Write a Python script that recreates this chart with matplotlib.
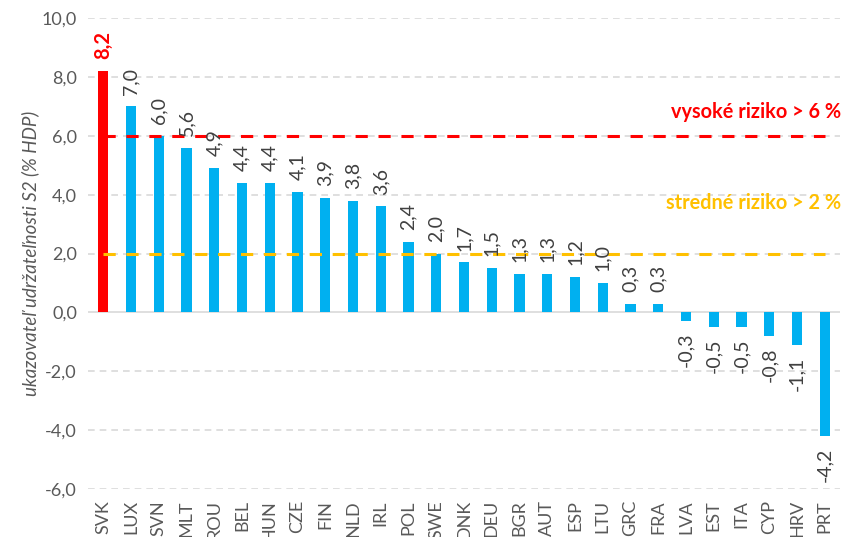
import numpy as np
import matplotlib.pyplot as plt

plt.rcParams['font.family'] = ['Lato', 'DejaVu Sans']

# data
countries = ["SVK", "LUX", "SVN", "MLT", "ROU", "BEL", "HUN", "CZE", "FIN", "NLD",
             "IRL", "POL", "SWE", "DNK", "DEU", "BGR", "AUT", "ESP", "LTU", "GRC",
             "FRA", "LVA", "EST", "ITA", "CYP", "HRV", "PRT"]
s2 = [8.2, 7.0, 6.0, 5.6, 4.9, 4.4, 4.4, 4.1, 3.9, 3.8,
      3.6, 2.4, 2.0, 1.7, 1.5, 1.3, 1.3, 1.2, 1.0, 0.3,
      0.3, -0.3, -0.5, -0.5, -0.8, -1.1, -4.2]
high_risk = 6.0
mid_risk = 2.0
yticks = [-6, -4, -2, 0, 2, 4, 6, 8, 10]

BLUE = "#00B0F0"
RED = "#FF0000"
GOLD = "#FFC000"
GRAY = "#595959"

fig = plt.figure(figsize=(8.41, 5.37), dpi=100)
ax = fig.add_axes([88/841, 1 - 489/537, 752/841, 471/537])

x = np.arange(len(countries))
colors = [RED if c == "SVK" else BLUE for c in countries]
ax.bar(x, s2, width=0.37, color=colors, zorder=2)

# prahove ciary (nad stlpcami, od prvej po poslednu kategoriu)
ax.plot([x[0], x[-1]], [high_risk, high_risk], color=RED, lw=2.2,
        dashes=(4, 3.5), zorder=3)
ax.plot([x[0], x[-1]], [mid_risk, mid_risk], color=GOLD, lw=2.2,
        dashes=(4, 3.5), zorder=3)

# popisky hodnot
for xi, v, c in zip(x, s2, countries):
    txt = "{:.1f}".format(v).replace(".", ",")
    if c == "SVK":
        ax.text(xi, v + 0.4, txt, rotation=90, ha="center", va="bottom",
                color=RED, fontsize=14.5, fontweight="bold")
    elif v >= 0:
        ax.text(xi, v + 0.4, txt, rotation=90, ha="center", va="bottom",
                color="#404040", fontsize=14)
    else:
        ax.text(xi, v - 0.4, txt, rotation=90, ha="center", va="top",
                color="#404040", fontsize=14)

ax.text(x[-1] + 0.6, 6.8, "vysoké riziko > 6 %", ha="right", va="center",
        color=RED, fontsize=14.3, fontweight="bold")
ax.text(x[-1] + 0.6, 3.72, "stredné riziko > 2 %", ha="right", va="center",
        color=GOLD, fontsize=14.3, fontweight="bold")

ax.set_xlim(-0.55, len(countries) - 0.45)
ax.set_ylim(-6, 10)
ax.set_yticks(yticks)
ax.set_yticklabels(["{:.1f}".format(t).replace(".", ",") for t in yticks],
                   color=GRAY, fontsize=13)
ax.set_xticks(x)
ax.set_xticklabels(countries, rotation=90, color=GRAY, fontsize=13)
ax.tick_params(axis="y", length=0, pad=8)
ax.tick_params(axis="x", length=0, pad=8)

for t in yticks:
    if t == 0:
        ax.axhline(0, color="#D9D9D9", lw=1.2, zorder=1)
    else:
        ax.axhline(t, color="#D9D9D9", lw=1.2, dashes=(4, 3), zorder=1)

for s in ax.spines.values():
    s.set_visible(False)

ax.set_ylabel("ukazovateľ udržateľnosti S2 (% HDP)", fontstyle="italic",
              color=GRAY, fontsize=13.5, labelpad=2)

fig.savefig("out.png", dpi=100)
